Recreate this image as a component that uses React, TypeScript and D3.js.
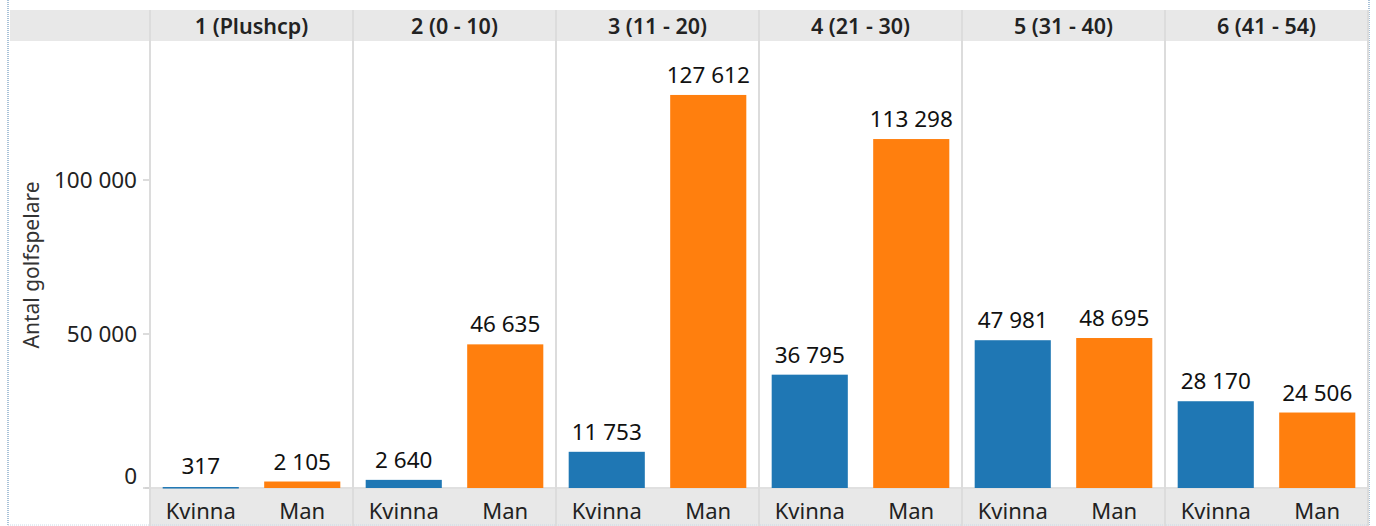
import React from "react";
import * as d3 from "d3";

const groups = ["1 (Plushcp)", "2 (0 - 10)", "3 (11 - 20)", "4 (21 - 30)", "5 (31 - 40)", "6 (41 - 54)"];
const genders = ["Kvinna", "Man"];
const kvinna = [317, 2640, 11753, 36795, 47981, 28170];
const man = [2105, 46635, 127612, 113298, 48695, 24506];
const yTicks = [0, 50000, 100000];

const W = 1376, H = 526;
const left = 150, right = 1368;
const top = 41, base = 488;
const font = "'Noto Sans', sans-serif";
const colors: Record<string, string> = { Kvinna: "#1f77b4", Man: "#ff7f0e" };
const fmt = (v: number) => d3.format(",")(v).replace(/,/g, " ");

export default function App() {
  const panel = d3.scaleBand<string>().domain(groups).range([left, right]);
  const inner = d3.scaleBand<string>().domain(genders).range([0, panel.bandwidth()]).paddingInner(0.25).paddingOuter(0.125);
  const y = d3.scaleLinear().domain([0, 140000]).range([base, base - 140000 * 0.00308]);
  return (
    <svg width={W} height={H} style={{ position: "absolute", left: 0, top: 0, background: "#fff" }} fontFamily={font}>
      <rect x={10} y={10} width={right - 10} height={top - 10} fill="#e8e8e8" />
      <rect x={left} y={base + 1} width={right - left} height={H - base - 1} fill="#e8e8e8" />
      <line x1={8} x2={8} y1={0} y2={H} stroke="#a8c2d8" strokeDasharray="1,1" strokeWidth={2} />
      <line x1={right + 1} x2={right + 1} y1={0} y2={H} stroke="#a8c2d8" strokeDasharray="1,1" strokeWidth={2} />
      <line x1={8} x2={right} y1={H - 1} y2={H - 1} stroke="#c8d8e6" strokeDasharray="1,1" />
      <line x1={145} x2={right} y1={base} y2={base} stroke="#d6d6d6" strokeWidth={1.5} />
      {yTicks.map((t) => (
        <g key={t}>
          <line x1={143} x2={left} y1={y(t)} y2={y(t)} stroke="#d0d0d0" strokeWidth={1.5} />
          <text x={137} y={t === 0 ? y(t) - 12 : y(t)} dy="0.35em" textAnchor="end" fontSize={22.5} fill="#222">{fmt(t)}</text>
        </g>
      ))}
      <text transform={`translate(39,${265}) rotate(-90)`} textAnchor="middle" fontSize={21} fill="#333">Antal golfspelare</text>
      {groups.map((g, i) => {
        const px = panel(g)!;
        const vals = [kvinna[i], man[i]];
        return (
          <g key={g}>
            <line x1={px} x2={px} y1={10} y2={H} stroke="#dcdcdc" strokeWidth={2} />
            <text x={px + panel.bandwidth() / 2} y={26} dy="0.35em" textAnchor="middle" fontSize={21.5} fontWeight={600} fill="#222">{g}</text>
            {genders.map((s, j) => {
              const bx = px + inner(s)!;
              const v = vals[j];
              const cx = bx + inner.bandwidth() / 2;
              return (
                <g key={s}>
                  <rect x={bx} y={y(v)} width={inner.bandwidth()} height={Math.max(base - y(v), 1.5)} fill={colors[s]} />
                  <text x={cx} y={Math.min(y(v), base - 2) - 12} textAnchor="middle" fontSize={22.5} fill="#111">{fmt(v)}</text>
                  <text x={cx} y={511} dy="0.35em" textAnchor="middle" fontSize={22} fill="#222">{s}</text>
                </g>
              );
            })}
          </g>
        );
      })}
      <line x1={right} x2={right} y1={10} y2={H} stroke="#dcdcdc" strokeWidth={2} />
    </svg>
  );
}
